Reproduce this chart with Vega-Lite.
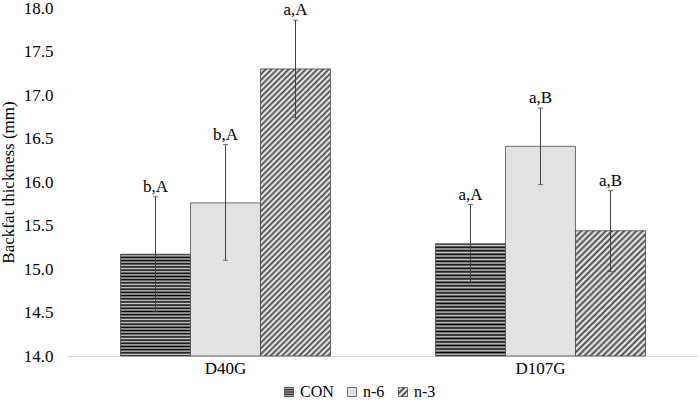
{
  "$schema": "https://vega.github.io/schema/vega-lite/v6.json",
  "width": 630,
  "height": 348,
  "autosize": {"type": "none"},
  "padding": {"left": 68, "top": 8, "right": 2, "bottom": 55},
  "background": "white",
  "config": {
    "view": {"stroke": null},
    "font": "Liberation Serif"
  },
  "data": {
    "values": [
      {"group": "D40G", "treatment": "CON", "value": 15.17, "lo": 14.51, "hi": 15.83, "label": "b,A"},
      {"group": "D40G", "treatment": "n-6", "value": 15.76, "lo": 15.10, "hi": 16.43, "label": "b,A"},
      {"group": "D40G", "treatment": "n-3", "value": 17.30, "lo": 16.74, "hi": 17.86, "label": "a,A"},
      {"group": "D107G", "treatment": "CON", "value": 15.29, "lo": 14.84, "hi": 15.74, "label": "a,A"},
      {"group": "D107G", "treatment": "n-6", "value": 16.41, "lo": 15.97, "hi": 16.85, "label": "a,B"},
      {"group": "D107G", "treatment": "n-3", "value": 15.44, "lo": 14.97, "hi": 15.90, "label": "a,B"}
    ]
  },
  "encoding": {
    "x": {
      "field": "group", "type": "nominal", "sort": ["D40G", "D107G"],
      "scale": {"paddingInner": 0.3333, "paddingOuter": 0.1667},
      "axis": {"title": null, "labelAngle": 0, "ticks": false, "domainColor": "#d9d9d9", "domainWidth": 1, "labelFont": "Liberation Serif", "labelFontSize": 17, "labelColor": "#000", "labelPadding": 4, "grid": false}
    },
    "xOffset": {"field": "treatment", "type": "nominal", "sort": ["CON", "n-6", "n-3"], "scale": {"paddingInner": 0, "paddingOuter": 0}}
  },
  "layer": [
    {
      "mark": {"type": "bar", "stroke": "#404040", "strokeWidth": 0.75},
      "encoding": {
        "y": {
          "field": "value", "type": "quantitative",
          "scale": {"domain": [14, 18], "zero": false, "nice": false},
          "axis": {"title": "Backfat thickness (mm)", "titleFont": "Liberation Serif", "titleFontSize": 17, "titleFontWeight": "normal", "titleColor": "#000", "titlePadding": 6, "domain": false, "ticks": false, "tickSize": 0, "grid": false, "labelFont": "Liberation Serif", "labelFontSize": 17, "labelColor": "#000", "labelPadding": 15, "format": ".1f", "values": [14, 14.5, 15, 15.5, 16, 16.5, 17, 17.5, 18]}
        },
        "y2": {"datum": 14},
        "fill": {
          "condition": [
            {
              "test": "datum.treatment === 'CON'",
              "value": {"gradient": "linear", "x1": 0, "y1": 0, "x2": 0, "y2": 1, "stops": [
                {"offset": 0, "color": "#000"}, {"offset": 0.015625, "color": "#c8c8c8"}, {"offset": 0.03125, "color": "#000"}, {"offset": 0.046875, "color": "#c8c8c8"},
                {"offset": 0.0625, "color": "#000"}, {"offset": 0.078125, "color": "#c8c8c8"}, {"offset": 0.09375, "color": "#000"}, {"offset": 0.109375, "color": "#c8c8c8"},
                {"offset": 0.125, "color": "#000"}, {"offset": 0.140625, "color": "#c8c8c8"}, {"offset": 0.15625, "color": "#000"}, {"offset": 0.171875, "color": "#c8c8c8"},
                {"offset": 0.1875, "color": "#000"}, {"offset": 0.203125, "color": "#c8c8c8"}, {"offset": 0.21875, "color": "#000"}, {"offset": 0.234375, "color": "#c8c8c8"},
                {"offset": 0.25, "color": "#000"}, {"offset": 0.265625, "color": "#c8c8c8"}, {"offset": 0.28125, "color": "#000"}, {"offset": 0.296875, "color": "#c8c8c8"},
                {"offset": 0.3125, "color": "#000"}, {"offset": 0.328125, "color": "#c8c8c8"}, {"offset": 0.34375, "color": "#000"}, {"offset": 0.359375, "color": "#c8c8c8"},
                {"offset": 0.375, "color": "#000"}, {"offset": 0.390625, "color": "#c8c8c8"}, {"offset": 0.40625, "color": "#000"}, {"offset": 0.421875, "color": "#c8c8c8"},
                {"offset": 0.4375, "color": "#000"}, {"offset": 0.453125, "color": "#c8c8c8"}, {"offset": 0.46875, "color": "#000"}, {"offset": 0.484375, "color": "#c8c8c8"},
                {"offset": 0.5, "color": "#000"}, {"offset": 0.515625, "color": "#c8c8c8"}, {"offset": 0.53125, "color": "#000"}, {"offset": 0.546875, "color": "#c8c8c8"},
                {"offset": 0.5625, "color": "#000"}, {"offset": 0.578125, "color": "#c8c8c8"}, {"offset": 0.59375, "color": "#000"}, {"offset": 0.609375, "color": "#c8c8c8"},
                {"offset": 0.625, "color": "#000"}, {"offset": 0.640625, "color": "#c8c8c8"}, {"offset": 0.65625, "color": "#000"}, {"offset": 0.671875, "color": "#c8c8c8"},
                {"offset": 0.6875, "color": "#000"}, {"offset": 0.703125, "color": "#c8c8c8"}, {"offset": 0.71875, "color": "#000"}, {"offset": 0.734375, "color": "#c8c8c8"},
                {"offset": 0.75, "color": "#000"}, {"offset": 0.765625, "color": "#c8c8c8"}, {"offset": 0.78125, "color": "#000"}, {"offset": 0.796875, "color": "#c8c8c8"},
                {"offset": 0.8125, "color": "#000"}, {"offset": 0.828125, "color": "#c8c8c8"}, {"offset": 0.84375, "color": "#000"}, {"offset": 0.859375, "color": "#c8c8c8"},
                {"offset": 0.875, "color": "#000"}, {"offset": 0.890625, "color": "#c8c8c8"}, {"offset": 0.90625, "color": "#000"}, {"offset": 0.921875, "color": "#c8c8c8"},
                {"offset": 0.9375, "color": "#000"}, {"offset": 0.953125, "color": "#c8c8c8"}, {"offset": 0.96875, "color": "#000"}, {"offset": 0.984375, "color": "#c8c8c8"},
                {"offset": 1, "color": "#000"}
              ]}
            },
            {
              "test": "datum.group === 'D107G' && datum.treatment === 'n-3'",
              "value": {"gradient": "linear", "x1": 0, "y1": 0, "x2": 0.6604, "y2": 1.1887, "stops": [
                {"offset": 0, "color": "#444"}, {"offset": 0.015625, "color": "#fff"}, {"offset": 0.03125, "color": "#444"}, {"offset": 0.046875, "color": "#fff"},
                {"offset": 0.0625, "color": "#444"}, {"offset": 0.078125, "color": "#fff"}, {"offset": 0.09375, "color": "#444"}, {"offset": 0.109375, "color": "#fff"},
                {"offset": 0.125, "color": "#444"}, {"offset": 0.140625, "color": "#fff"}, {"offset": 0.15625, "color": "#444"}, {"offset": 0.171875, "color": "#fff"},
                {"offset": 0.1875, "color": "#444"}, {"offset": 0.203125, "color": "#fff"}, {"offset": 0.21875, "color": "#444"}, {"offset": 0.234375, "color": "#fff"},
                {"offset": 0.25, "color": "#444"}, {"offset": 0.265625, "color": "#fff"}, {"offset": 0.28125, "color": "#444"}, {"offset": 0.296875, "color": "#fff"},
                {"offset": 0.3125, "color": "#444"}, {"offset": 0.328125, "color": "#fff"}, {"offset": 0.34375, "color": "#444"}, {"offset": 0.359375, "color": "#fff"},
                {"offset": 0.375, "color": "#444"}, {"offset": 0.390625, "color": "#fff"}, {"offset": 0.40625, "color": "#444"}, {"offset": 0.421875, "color": "#fff"},
                {"offset": 0.4375, "color": "#444"}, {"offset": 0.453125, "color": "#fff"}, {"offset": 0.46875, "color": "#444"}, {"offset": 0.484375, "color": "#fff"},
                {"offset": 0.5, "color": "#444"}, {"offset": 0.515625, "color": "#fff"}, {"offset": 0.53125, "color": "#444"}, {"offset": 0.546875, "color": "#fff"},
                {"offset": 0.5625, "color": "#444"}, {"offset": 0.578125, "color": "#fff"}, {"offset": 0.59375, "color": "#444"}, {"offset": 0.609375, "color": "#fff"},
                {"offset": 0.625, "color": "#444"}, {"offset": 0.640625, "color": "#fff"}, {"offset": 0.65625, "color": "#444"}, {"offset": 0.671875, "color": "#fff"},
                {"offset": 0.6875, "color": "#444"}, {"offset": 0.703125, "color": "#fff"}, {"offset": 0.71875, "color": "#444"}, {"offset": 0.734375, "color": "#fff"},
                {"offset": 0.75, "color": "#444"}, {"offset": 0.765625, "color": "#fff"}, {"offset": 0.78125, "color": "#444"}, {"offset": 0.796875, "color": "#fff"},
                {"offset": 0.8125, "color": "#444"}, {"offset": 0.828125, "color": "#fff"}, {"offset": 0.84375, "color": "#444"}, {"offset": 0.859375, "color": "#fff"},
                {"offset": 0.875, "color": "#444"}, {"offset": 0.890625, "color": "#fff"}, {"offset": 0.90625, "color": "#444"}, {"offset": 0.921875, "color": "#fff"},
                {"offset": 0.9375, "color": "#444"}, {"offset": 0.953125, "color": "#fff"}, {"offset": 0.96875, "color": "#444"}, {"offset": 0.984375, "color": "#fff"},
                {"offset": 1, "color": "#444"}
              ]}
            },
            {
              "test": "datum.group === 'D40G' && datum.treatment === 'n-3'",
              "value": {"gradient": "linear", "x1": 0, "y1": 0, "x2": 0.2853, "y2": 1.1737, "stops": [
                {"offset": 0, "color": "#444"}, {"offset": 0.008, "color": "#fff"}, {"offset": 0.016, "color": "#444"}, {"offset": 0.024, "color": "#fff"},
                {"offset": 0.032, "color": "#444"}, {"offset": 0.04, "color": "#fff"}, {"offset": 0.048, "color": "#444"}, {"offset": 0.056, "color": "#fff"},
                {"offset": 0.064, "color": "#444"}, {"offset": 0.072, "color": "#fff"}, {"offset": 0.08, "color": "#444"}, {"offset": 0.088, "color": "#fff"},
                {"offset": 0.096, "color": "#444"}, {"offset": 0.104, "color": "#fff"}, {"offset": 0.112, "color": "#444"}, {"offset": 0.12, "color": "#fff"},
                {"offset": 0.128, "color": "#444"}, {"offset": 0.136, "color": "#fff"}, {"offset": 0.144, "color": "#444"}, {"offset": 0.152, "color": "#fff"},
                {"offset": 0.16, "color": "#444"}, {"offset": 0.168, "color": "#fff"}, {"offset": 0.176, "color": "#444"}, {"offset": 0.184, "color": "#fff"},
                {"offset": 0.192, "color": "#444"}, {"offset": 0.2, "color": "#fff"}, {"offset": 0.208, "color": "#444"}, {"offset": 0.216, "color": "#fff"},
                {"offset": 0.224, "color": "#444"}, {"offset": 0.232, "color": "#fff"}, {"offset": 0.24, "color": "#444"}, {"offset": 0.248, "color": "#fff"},
                {"offset": 0.256, "color": "#444"}, {"offset": 0.264, "color": "#fff"}, {"offset": 0.272, "color": "#444"}, {"offset": 0.28, "color": "#fff"},
                {"offset": 0.288, "color": "#444"}, {"offset": 0.296, "color": "#fff"}, {"offset": 0.304, "color": "#444"}, {"offset": 0.312, "color": "#fff"},
                {"offset": 0.32, "color": "#444"}, {"offset": 0.328, "color": "#fff"}, {"offset": 0.336, "color": "#444"}, {"offset": 0.344, "color": "#fff"},
                {"offset": 0.352, "color": "#444"}, {"offset": 0.36, "color": "#fff"}, {"offset": 0.368, "color": "#444"}, {"offset": 0.376, "color": "#fff"},
                {"offset": 0.384, "color": "#444"}, {"offset": 0.392, "color": "#fff"}, {"offset": 0.4, "color": "#444"}, {"offset": 0.408, "color": "#fff"},
                {"offset": 0.416, "color": "#444"}, {"offset": 0.424, "color": "#fff"}, {"offset": 0.432, "color": "#444"}, {"offset": 0.44, "color": "#fff"},
                {"offset": 0.448, "color": "#444"}, {"offset": 0.456, "color": "#fff"}, {"offset": 0.464, "color": "#444"}, {"offset": 0.472, "color": "#fff"},
                {"offset": 0.48, "color": "#444"}, {"offset": 0.488, "color": "#fff"}, {"offset": 0.496, "color": "#444"}, {"offset": 0.504, "color": "#fff"},
                {"offset": 0.512, "color": "#444"}, {"offset": 0.52, "color": "#fff"}, {"offset": 0.528, "color": "#444"}, {"offset": 0.536, "color": "#fff"},
                {"offset": 0.544, "color": "#444"}, {"offset": 0.552, "color": "#fff"}, {"offset": 0.56, "color": "#444"}, {"offset": 0.568, "color": "#fff"},
                {"offset": 0.576, "color": "#444"}, {"offset": 0.584, "color": "#fff"}, {"offset": 0.592, "color": "#444"}, {"offset": 0.6, "color": "#fff"},
                {"offset": 0.608, "color": "#444"}, {"offset": 0.616, "color": "#fff"}, {"offset": 0.624, "color": "#444"}, {"offset": 0.632, "color": "#fff"},
                {"offset": 0.64, "color": "#444"}, {"offset": 0.648, "color": "#fff"}, {"offset": 0.656, "color": "#444"}, {"offset": 0.664, "color": "#fff"},
                {"offset": 0.672, "color": "#444"}, {"offset": 0.68, "color": "#fff"}, {"offset": 0.688, "color": "#444"}, {"offset": 0.696, "color": "#fff"},
                {"offset": 0.704, "color": "#444"}, {"offset": 0.712, "color": "#fff"}, {"offset": 0.72, "color": "#444"}, {"offset": 0.728, "color": "#fff"},
                {"offset": 0.736, "color": "#444"}, {"offset": 0.744, "color": "#fff"}, {"offset": 0.752, "color": "#444"}, {"offset": 0.76, "color": "#fff"},
                {"offset": 0.768, "color": "#444"}, {"offset": 0.776, "color": "#fff"}, {"offset": 0.784, "color": "#444"}, {"offset": 0.792, "color": "#fff"},
                {"offset": 0.8, "color": "#444"}, {"offset": 0.808, "color": "#fff"}, {"offset": 0.816, "color": "#444"}, {"offset": 0.824, "color": "#fff"},
                {"offset": 0.832, "color": "#444"}, {"offset": 0.84, "color": "#fff"}, {"offset": 0.848, "color": "#444"}, {"offset": 0.856, "color": "#fff"},
                {"offset": 0.864, "color": "#444"}, {"offset": 0.872, "color": "#fff"}, {"offset": 0.88, "color": "#444"}, {"offset": 0.888, "color": "#fff"},
                {"offset": 0.896, "color": "#444"}, {"offset": 0.904, "color": "#fff"}, {"offset": 0.912, "color": "#444"}, {"offset": 0.92, "color": "#fff"},
                {"offset": 0.928, "color": "#444"}, {"offset": 0.936, "color": "#fff"}, {"offset": 0.944, "color": "#444"}, {"offset": 0.952, "color": "#fff"},
                {"offset": 0.96, "color": "#444"}, {"offset": 0.968, "color": "#fff"}, {"offset": 0.976, "color": "#444"}, {"offset": 0.984, "color": "#fff"},
                {"offset": 0.992, "color": "#444"}, {"offset": 1, "color": "#fff"}
              ]}
            }
          ],
          "field": "treatment", "type": "nominal",
          "scale": {
            "domain": ["CON", "n-6", "n-3"],
            "range": [
              {"expr": "{gradient: 'linear', x1: 0, y1: 0, x2: 0, y2: 1, stops: [{offset: 0, color: '#000'}, {offset: 0.125, color: '#d0d0d0'}, {offset: 0.25, color: '#000'}, {offset: 0.375, color: '#d0d0d0'}, {offset: 0.5, color: '#000'}, {offset: 0.625, color: '#d0d0d0'}, {offset: 0.75, color: '#000'}, {offset: 0.875, color: '#d0d0d0'}, {offset: 1, color: '#000'}]}"},
              "#e2e2e2",
              {"expr": "{gradient: 'linear', x1: 0, y1: 0, x2: 1, y2: 1, stops: [{offset: 0, color: '#444'}, {offset: 0.1667, color: '#fff'}, {offset: 0.3333, color: '#444'}, {offset: 0.5, color: '#fff'}, {offset: 0.6667, color: '#444'}, {offset: 0.8333, color: '#fff'}, {offset: 1, color: '#444'}]}"}
            ]
          },
          "legend": {
            "title": null, "orient": "none", "direction": "horizontal", "legendX": 213, "legendY": 376,
            "symbolType": "square", "symbolSize": 81, "symbolStrokeColor": "#404040", "symbolStrokeWidth": 0.75,
            "labelFont": "Liberation Serif", "labelFontSize": 16, "labelOffset": 3, "columnPadding": 10, "padding": 0, "labelColor": "#000"
          }
        }
      }
    },
    {
      "mark": {"type": "rule", "color": "#404040", "strokeWidth": 1},
      "encoding": {
        "y": {"field": "lo", "type": "quantitative"},
        "y2": {"field": "hi"}
      }
    },
    {
      "mark": {"type": "tick", "color": "#404040", "orient": "horizontal", "size": 5, "thickness": 1},
      "encoding": {"y": {"field": "lo", "type": "quantitative"}}
    },
    {
      "mark": {"type": "tick", "color": "#404040", "orient": "horizontal", "size": 5, "thickness": 1},
      "encoding": {"y": {"field": "hi", "type": "quantitative"}}
    },
    {
      "mark": {"type": "text", "font": "Liberation Serif", "fontSize": 17, "color": "#000", "baseline": "alphabetic", "dy": -5},
      "encoding": {
        "y": {"field": "hi", "type": "quantitative"},
        "text": {"field": "label"}
      }
    }
  ]
}
